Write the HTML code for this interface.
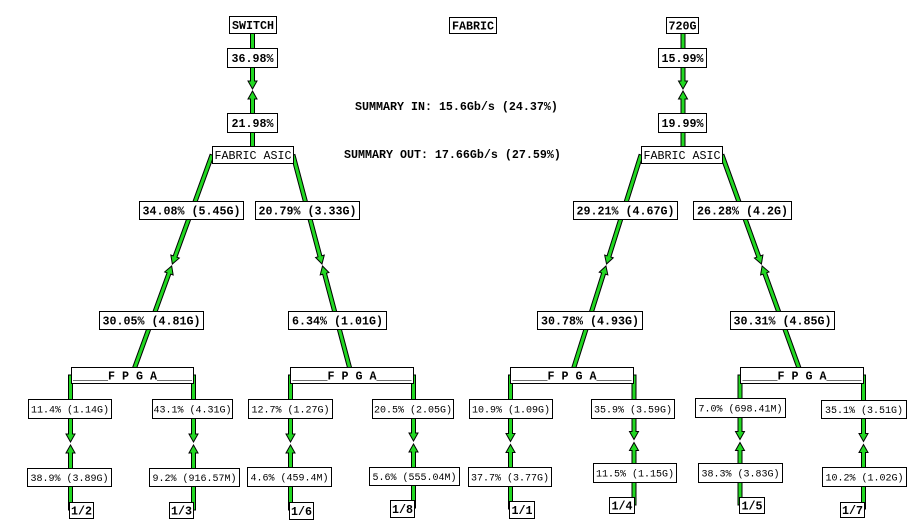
<!DOCTYPE html>
<html><head><meta charset="utf-8"><style>
html,body{margin:0;padding:0;background:#fff;}
svg{display:block;}
.b{font-family:"Liberation Mono",monospace;font-weight:bold;font-size:11.667px;fill:#000;}
.m{font-family:"Liberation Mono",monospace;font-weight:normal;font-size:11.667px;fill:#000;}
.r{font-family:"Liberation Mono",monospace;font-weight:normal;font-size:10px;fill:#000;}
rect{fill:#fff;stroke:#000;stroke-width:1;}
polygon{fill:#22d822;stroke:#000;stroke-width:1;stroke-linejoin:miter;}
</style></head><body>
<svg width="911" height="525" viewBox="0 0 911 525" xmlns="http://www.w3.org/2000/svg">
<rect x="-1" y="-1" width="913" height="527" style="stroke:none;fill:#fff"/>

<!-- vertical top links -->
<polygon points="250.5,25 250.5,81 248,81 252.5,89 257,81 254.5,81 254.5,25"/>
<polygon points="250.5,155 250.5,99 248,99 252.5,91 257,99 254.5,99 254.5,155"/>
<polygon points="681,25 681,81 678.5,81 683,89 687.5,81 685,81 685,25"/>
<polygon points="681,155 681,99 678.5,99 683,91 687.5,99 685,99 685,155"/>

<!-- diagonal links -->
<polygon points="210.12,154.32 173.19,255.86 170.84,255.00 172.34,264.06 179.30,258.08 176.95,257.22 213.88,155.68"/>
<polygon points="133.88,375.68 170.81,274.14 173.16,275.00 171.66,265.94 164.70,271.92 167.05,272.78 130.12,374.32"/>

<polygon points="291.07,155.51 318.00,256.81 315.59,257.46 321.99,264.03 324.29,255.14 321.87,255.79 294.93,154.49"/>
<polygon points="353.43,374.49 326.50,273.19 328.92,272.54 322.51,265.97 320.22,274.86 322.64,274.21 349.57,375.51"/>

<polygon points="639.09,154.40 607.05,255.82 604.67,255.07 606.55,264.05 613.25,257.78 610.87,257.02 642.91,155.60"/>
<polygon points="573.41,375.60 605.45,274.18 607.83,274.94 605.95,265.95 599.25,272.22 601.63,272.98 569.59,374.40"/>

<polygon points="720.12,155.68 756.81,257.22 754.46,258.07 761.41,264.06 762.92,255.01 760.57,255.86 723.88,154.32"/>
<polygon points="803.38,374.32 766.69,272.78 769.04,271.93 762.09,265.94 760.58,274.99 762.93,274.14 799.62,375.68"/>

<!-- vertical sub links -->
<!-- x=70.5 mid 442.5 -->
<polygon points="68.5,375 68.5,434 66,434 70.5,442 75,434 72.5,434 72.5,375"/>
<polygon points="68.5,510 68.5,453 66,453 70.5,445 75,453 72.5,453 72.5,510"/>
<!-- x=193.5 -->
<polygon points="191.5,375 191.5,434 189,434 193.5,442 198,434 195.5,434 195.5,375"/>
<polygon points="191.5,510 191.5,453 189,453 193.5,445 198,453 195.5,453 195.5,510"/>
<!-- x=290.5 -->
<polygon points="288.5,375 288.5,434 286,434 290.5,442 295,434 292.5,434 292.5,375"/>
<polygon points="288.5,510 288.5,453 286,453 290.5,445 295,453 292.5,453 292.5,510"/>
<!-- x=413.5 mid 441.75 -->
<polygon points="411.5,375 411.5,433 409,433 413.5,441 418,433 415.5,433 415.5,375"/>
<polygon points="411.5,508 411.5,452 409,452 413.5,444 418,452 415.5,452 415.5,508"/>
<!-- x=510.5 mid 442 -->
<polygon points="508.5,375 508.5,433.5 506,433.5 510.5,441.5 515,433.5 512.5,433.5 512.5,375"/>
<polygon points="508.5,509 508.5,452.5 506,452.5 510.5,444.5 515,452.5 512.5,452.5 512.5,509"/>
<!-- x=634 mid 440 -->
<polygon points="632,375 632,431.5 629.5,431.5 634,439.5 638.5,431.5 636,431.5 636,375"/>
<polygon points="632,505 632,450.5 629.5,450.5 634,442.5 638.5,450.5 636,450.5 636,505"/>
<!-- x=740 mid 440 -->
<polygon points="738,375 738,431.5 735.5,431.5 740,439.5 744.5,431.5 742,431.5 742,375"/>
<polygon points="738,505 738,450.5 735.5,450.5 740,442.5 744.5,450.5 742,450.5 742,505"/>
<!-- x=863.5 mid 442 -->
<polygon points="861.5,375 861.5,433.5 859,433.5 863.5,441.5 868,433.5 865.5,433.5 865.5,375"/>
<polygon points="861.5,509 861.5,452.5 859,452.5 863.5,444.5 868,452.5 865.5,452.5 865.5,509"/>

<!-- summary texts -->
<text class="b" x="355" y="110">SUMMARY IN: 15.6Gb/s (24.37%)</text>
<text class="b" x="344" y="158">SUMMARY OUT: 17.66Gb/s (27.59%)</text>

<!-- node boxes -->
<rect x="229.5" y="16.5" width="47" height="17"/><text class="b" x="253" y="29" text-anchor="middle">SWITCH</text>
<rect x="449.5" y="17.5" width="47" height="16"/><text class="b" x="473" y="29.5" text-anchor="middle">FABRIC</text>
<rect x="666.5" y="17.5" width="32" height="16"/><text class="b" x="682.5" y="29.5" text-anchor="middle">720G</text>

<rect x="212.5" y="146.5" width="81" height="17"/><text class="m" x="253" y="159" text-anchor="middle">FABRIC ASIC</text>
<rect x="641.5" y="146.5" width="81" height="17"/><text class="m" x="682" y="159" text-anchor="middle">FABRIC ASIC</text>

<rect x="71.5" y="367.5" width="122" height="16"/><text class="b" x="132.5" y="379.5" text-anchor="middle">_____F P G A_____</text>
<rect x="290.5" y="367.5" width="123" height="16"/><text class="b" x="352" y="379.5" text-anchor="middle">_____F P G A_____</text>
<rect x="510.5" y="367.5" width="123" height="16"/><text class="b" x="572" y="379.5" text-anchor="middle">_____F P G A_____</text>
<rect x="740.5" y="367.5" width="123" height="16"/><text class="b" x="802" y="379.5" text-anchor="middle">_____F P G A_____</text>

<rect x="69.5" y="502.5" width="24" height="16"/><text class="b" x="81.5" y="514.5" text-anchor="middle">1/2</text>
<rect x="169.5" y="502.5" width="24" height="16"/><text class="b" x="181.5" y="514.5" text-anchor="middle">1/3</text>
<rect x="289.5" y="502.5" width="24" height="17"/><text class="b" x="301.5" y="515" text-anchor="middle">1/6</text>
<rect x="390.5" y="500.5" width="24" height="17"/><text class="b" x="402.5" y="513" text-anchor="middle">1/8</text>
<rect x="509.5" y="501.5" width="25" height="17"/><text class="b" x="522" y="514" text-anchor="middle">1/1</text>
<rect x="609.5" y="497.5" width="25" height="16"/><text class="b" x="622" y="509.5" text-anchor="middle">1/4</text>
<rect x="739.5" y="497.5" width="25" height="16"/><text class="b" x="752" y="509.5" text-anchor="middle">1/5</text>
<rect x="840.5" y="502.5" width="24" height="15"/><text class="b" x="852.5" y="514" text-anchor="middle">1/7</text>

<!-- link labels top -->
<rect x="227.5" y="48.5" width="50" height="19"/><text class="b" x="252.5" y="62" text-anchor="middle">36.98%</text>
<rect x="227.5" y="113.5" width="50" height="19"/><text class="b" x="252.5" y="127" text-anchor="middle">21.98%</text>
<rect x="658.5" y="48.5" width="48" height="19"/><text class="b" x="682.5" y="62" text-anchor="middle">15.99%</text>
<rect x="658.5" y="113.5" width="48" height="19"/><text class="b" x="682.5" y="127" text-anchor="middle">19.99%</text>

<rect x="139.5" y="201.5" width="104" height="18"/><text class="b" x="191.5" y="214.5" text-anchor="middle">34.08% (5.45G)</text>
<rect x="255.5" y="201.5" width="104" height="18"/><text class="b" x="307.5" y="214.5" text-anchor="middle">20.79% (3.33G)</text>
<rect x="573.5" y="201.5" width="104" height="18"/><text class="b" x="625.5" y="214.5" text-anchor="middle">29.21% (4.67G)</text>
<rect x="693.5" y="201.5" width="98" height="18"/><text class="b" x="742.5" y="214.5" text-anchor="middle">26.28% (4.2G)</text>

<rect x="99.5" y="311.5" width="104" height="18"/><text class="b" x="151.5" y="324.5" text-anchor="middle">30.05% (4.81G)</text>
<rect x="288.5" y="311.5" width="98" height="18"/><text class="b" x="337.5" y="324.5" text-anchor="middle">6.34% (1.01G)</text>
<rect x="537.5" y="311.5" width="105" height="18"/><text class="b" x="590" y="324.5" text-anchor="middle">30.78% (4.93G)</text>
<rect x="730.5" y="311.5" width="104" height="18"/><text class="b" x="782.5" y="324.5" text-anchor="middle">30.31% (4.85G)</text>

<!-- lower labels (regular) -->
<rect x="28.5" y="399.5" width="83" height="19"/><text class="r" x="70" y="412.5" text-anchor="middle">11.4% (1.14G)</text>
<rect x="27.5" y="468.5" width="84" height="18"/><text class="r" x="69.5" y="481" text-anchor="middle">38.9% (3.89G)</text>
<rect x="152.5" y="399.5" width="80" height="19"/><text class="r" x="192.5" y="412.5" text-anchor="middle">43.1% (4.31G)</text>
<rect x="149.5" y="468.5" width="90" height="18"/><text class="r" x="194.5" y="481" text-anchor="middle">9.2% (916.57M)</text>

<rect x="248.5" y="399.5" width="84" height="19"/><text class="r" x="290.5" y="412.5" text-anchor="middle">12.7% (1.27G)</text>
<rect x="247.5" y="467.5" width="84" height="19"/><text class="r" x="289.5" y="480.5" text-anchor="middle">4.6% (459.4M)</text>
<rect x="372.5" y="399.5" width="81" height="19"/><text class="r" x="413" y="412.5" text-anchor="middle">20.5% (2.05G)</text>
<rect x="369.5" y="467.5" width="90" height="18"/><text class="r" x="414.5" y="480" text-anchor="middle">5.6% (555.04M)</text>

<rect x="469.5" y="399.5" width="83" height="19"/><text class="r" x="511" y="412.5" text-anchor="middle">10.9% (1.09G)</text>
<rect x="468.5" y="467.5" width="83" height="19"/><text class="r" x="510" y="480.5" text-anchor="middle">37.7% (3.77G)</text>
<rect x="591.5" y="399.5" width="83" height="19"/><text class="r" x="633" y="412.5" text-anchor="middle">35.9% (3.59G)</text>
<rect x="593.5" y="463.5" width="83" height="19"/><text class="r" x="635" y="476.5" text-anchor="middle">11.5% (1.15G)</text>

<rect x="695.5" y="398.5" width="90" height="19"/><text class="r" x="740.5" y="411.5" text-anchor="middle">7.0% (698.41M)</text>
<rect x="698.5" y="463.5" width="84" height="19"/><text class="r" x="740.5" y="476.5" text-anchor="middle">38.3% (3.83G)</text>
<rect x="821.5" y="400.5" width="85" height="18"/><text class="r" x="864" y="413" text-anchor="middle">35.1% (3.51G)</text>
<rect x="822.5" y="467.5" width="84" height="19"/><text class="r" x="864.5" y="480.5" text-anchor="middle">10.2% (1.02G)</text>
</svg>
</body></html>
